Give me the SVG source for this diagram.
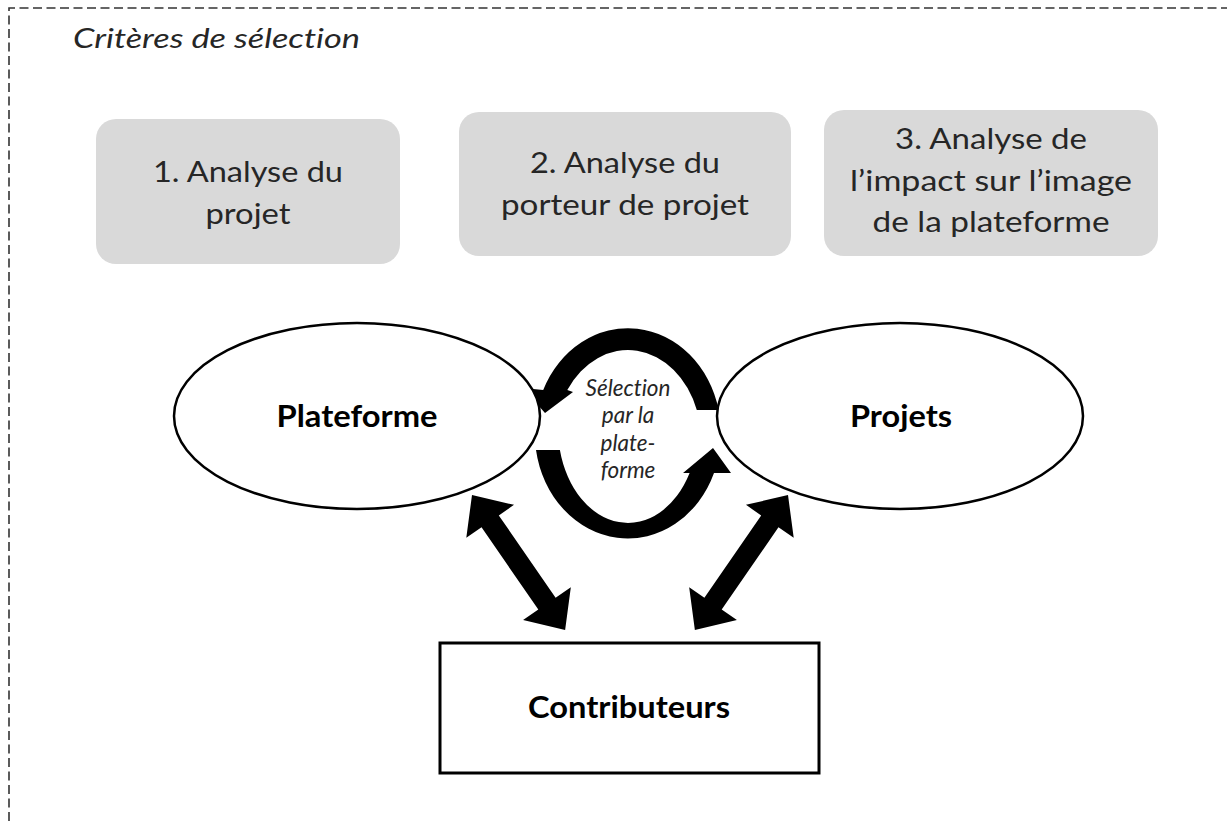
<svg xmlns="http://www.w3.org/2000/svg" width="1227" height="821" viewBox="0 0 1227 821">
  <style>
    text { font-variant-ligatures: none; }
    .frame { fill: none; stroke: #333; stroke-width: 1.6; stroke-dasharray: 9 4.5; }
    .crit { fill: #d9d9d9; stroke: none; }
    .crit-t { font-family: Lato, "Liberation Sans", sans-serif; font-size: 28px; fill: #262626; text-anchor: middle; }
    .title { font-family: Lato, "Liberation Sans", sans-serif; font-size: 27px; font-style: italic; fill: #262626; }
    .actor { fill: #fff; stroke: #000; stroke-width: 2.5; }
    .box { fill: #fff; stroke: #000; stroke-width: 3; }
    .lbl { font-family: Lato, "Liberation Sans", sans-serif; font-size: 30px; font-weight: bold; fill: #000; text-anchor: middle; }
    .sel { font-family: Lato, "Liberation Sans", sans-serif; font-size: 22.5px; font-style: italic; fill: #262626; text-anchor: middle; }
    .arr { fill: #000; stroke: none; }
  </style>

  <!-- dashed container -->
  <path class="frame" d="M9,821 V8 H1227"/>
  <text class="title" x="73" y="48" textLength="287" lengthAdjust="spacingAndGlyphs">Critères de sélection</text>

  <!-- selection criteria -->
  <g id="crit1">
    <rect class="crit" x="96" y="119" width="304" height="145" rx="20"/>
    <text class="crit-t" x="248" y="182" textLength="190" lengthAdjust="spacingAndGlyphs">1. Analyse du</text>
    <text class="crit-t" x="248" y="224" textLength="85" lengthAdjust="spacingAndGlyphs">projet</text>
  </g>
  <g id="crit2">
    <rect class="crit" x="459" y="112" width="332" height="144" rx="20"/>
    <text class="crit-t" x="625" y="173" textLength="190" lengthAdjust="spacingAndGlyphs">2. Analyse du</text>
    <text class="crit-t" x="625" y="215" textLength="248" lengthAdjust="spacingAndGlyphs">porteur de projet</text>
  </g>
  <g id="crit3">
    <rect class="crit" x="824" y="110" width="334" height="146" rx="20"/>
    <text class="crit-t" x="991" y="149" textLength="192" lengthAdjust="spacingAndGlyphs">3. Analyse de</text>
    <text class="crit-t" x="991" y="191" textLength="282" lengthAdjust="spacingAndGlyphs">l’impact sur l’image</text>
    <text class="crit-t" x="991" y="232" textLength="237" lengthAdjust="spacingAndGlyphs">de la plateforme</text>
  </g>

  <!-- connectors -->
  <g id="connectors">
    <!-- selection loop: upper arc towards Plateforme -->
    <path class="arr" d="M718.7,410 A93,105 0 0 0 543.2,390 L523,388 L545,413 L573,392 L567.3,390 A73,90 0 0 1 696.8,410 Z"/>
    <!-- selection loop: lower arc towards Projets -->
    <path class="arr" d="M536,450 A93,105 0 0 0 714,473 L731,473 L713,448 L683,473 L689.6,473 A70,95 0 0 1 559.9,450 Z"/>
    <!-- Plateforme <-> Contributeurs -->
    <path class="arr" transform="translate(472,495) rotate(55.4)" d="M0,0 L32,-29 L32,-10.5 L132,-10.5 L132,-29 L164,0 L132,29 L132,10.5 L32,10.5 L32,29 Z"/>
    <!-- Projets <-> Contributeurs -->
    <path class="arr" transform="translate(788,495) rotate(124.6)" d="M0,0 L32,-29 L32,-10.5 L132,-10.5 L132,-29 L164,0 L132,29 L132,10.5 L32,10.5 L32,29 Z"/>
  </g>

  <g id="plateforme">
    <ellipse class="actor" cx="357" cy="416" rx="183" ry="93"/>
    <text class="lbl" x="357" y="427" textLength="161" lengthAdjust="spacingAndGlyphs">Plateforme</text>
  </g>
  <g id="projets">
    <ellipse class="actor" cx="900" cy="416" rx="183" ry="93"/>
    <text class="lbl" x="901" y="427" textLength="102" lengthAdjust="spacingAndGlyphs">Projets</text>
  </g>
  <g id="selection-label">
    <text class="sel" x="628" y="396" textLength="85" lengthAdjust="spacingAndGlyphs">Sélection</text>
    <text class="sel" x="628" y="423">par la</text>
    <text class="sel" x="628" y="451">plate-</text>
    <text class="sel" x="628" y="478">forme</text>
  </g>
  <g id="contributeurs">
    <rect class="box" x="440" y="643" width="379" height="130"/>
    <text class="lbl" x="629" y="718" textLength="202" lengthAdjust="spacingAndGlyphs">Contributeurs</text>
  </g>
</svg>
